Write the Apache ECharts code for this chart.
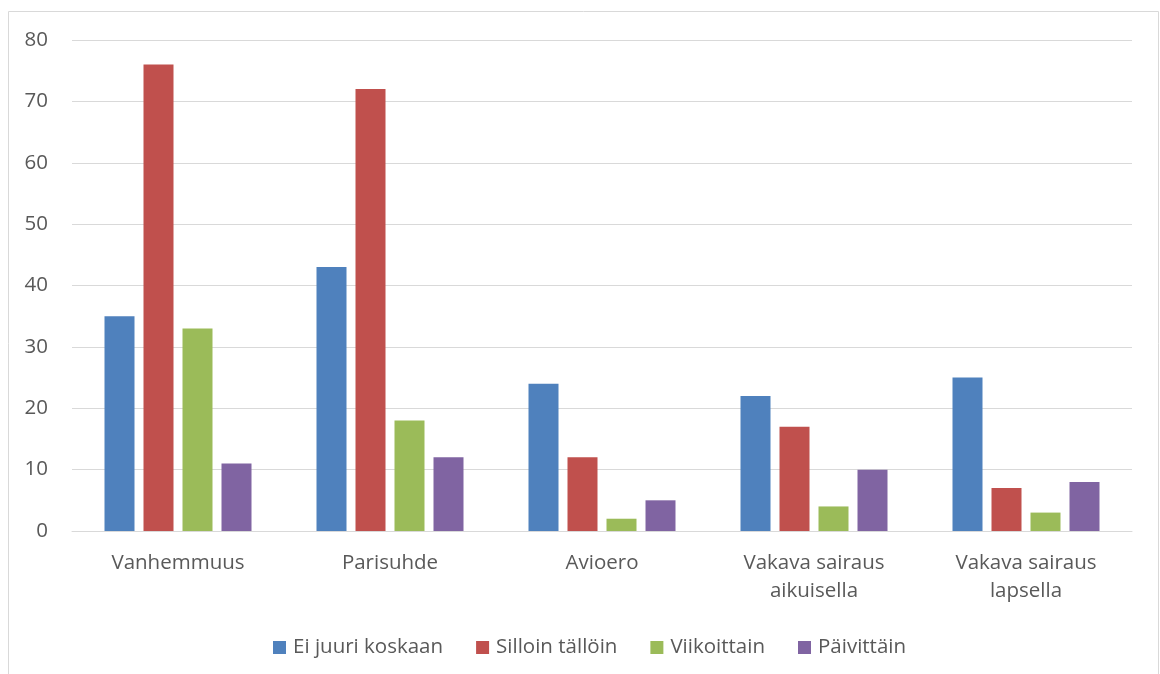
<!DOCTYPE html>
<html><head><meta charset="utf-8">
<script src="https://cdn.jsdelivr.net/npm/echarts@6/dist/echarts.min.js"></script>
<style>html,body{margin:0;padding:0;background:#fff}#c{width:1160px;height:674px}</style>
</head><body><div id="c"></div>
<script>
const categories = ["Vanhemmuus", "Parisuhde", "Avioero", "Vakava sairaus\naikuisella", "Vakava sairaus\nlapsella"];
const seriesNames = ["Ei juuri koskaan", "Silloin tällöin", "Viikoittain", "Päivittäin"];
const eiJuuriKoskaan = [35, 43, 24, 22, 25];
const silloinTalloin = [76, 72, 12, 17, 7];
const viikoittain = [33, 18, 2, 4, 3];
const paivittain = [11, 12, 5, 10, 8];
const colors = ["#4F81BD", "#C0504D", "#9BBB59", "#8064A2"];
const values = [eiJuuriKoskaan, silloinTalloin, viikoittain, paivittain];
const font = "'Open Sans', 'Noto Sans', sans-serif";
const fs = 20.5;
const chart = echarts.init(document.getElementById('c'));
chart.setOption({
  animation: false,
  color: colors,
  graphic: [{type:'rect', shape:{x:8.5,y:11.5,width:1150,height:700}, style:{fill:'none', stroke:'#d9d9d9', lineWidth:1}, silent:true, z:-1}],
  grid: {left: 72, right: 28, top: 40, bottom: 143, containLabel: false},
  legend: {
    top: 632, left: 268, itemWidth: 13, itemHeight: 13, itemGap: 33, icon: 'rect',
    textStyle: {fontFamily: font, fontSize: fs, color: '#595959', padding: [0, 0, 0, 2]},
    data: seriesNames
  },
  xAxis: {
    type: 'category', data: categories,
    axisLine: {lineStyle: {color: '#d9d9d9', width: 1}},
    axisTick: {show: false},
    axisLabel: {interval: 0, margin: 18, fontFamily: font, fontSize: fs, color: '#595959', lineHeight: 28}
  },
  yAxis: {
    type: 'value', min: 0, max: 80, interval: 10,
    axisLine: {show: false}, axisTick: {show: false},
    splitLine: {lineStyle: {color: '#d9d9d9', width: 1}},
    axisLabel: {margin: 24, fontFamily: font, fontSize: fs, color: '#595959'}
  },
  series: seriesNames.map((n, i) => ({
    name: n, type: 'bar', data: values[i], barWidth: 30, barGap: '30%',
    itemStyle: {color: colors[i]}
  }))
});
</script></body></html>
